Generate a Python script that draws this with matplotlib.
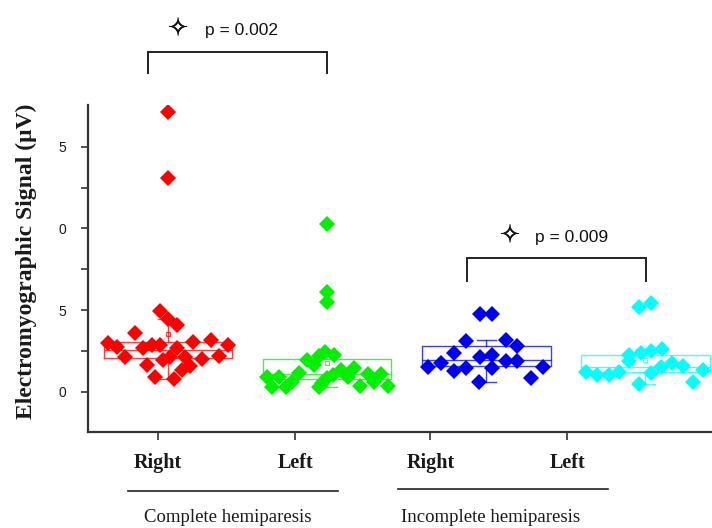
import numpy as np
import matplotlib
matplotlib.use("Agg")
import matplotlib.pyplot as plt
import matplotlib.patheffects as pe
from matplotlib.lines import Line2D

SERIF = "Liberation Serif"
SANS = "Liberation Sans"
INK = "#1a1a1a"

# categories
side_labels = ["Right", "Left", "Right", "Left"]
condition_labels = ["Complete hemiparesis", "Incomplete hemiparesis"]
colors = ["#ff0000", "#00f000", "#0000f0", "#00ffff"]

# EMG values (uV) per subject, with the horizontal scatter offset seen in the figure
right_complete = [17.14, 13.10, 4.97, 4.44, 4.10, 3.59, 3.02, 2.77, 2.12, 2.67,
                  2.87, 2.87, 2.67, 1.65, 0.90, 0.80, 1.96, 2.16, 2.12, 1.35,
                  1.59, 3.08, 3.18, 2.00, 2.20, 2.87]
right_complete_dx = [0.0, 0.0, -0.05, 0.0, 0.055, -0.21, -0.375, -0.32, -0.27, -0.155,
                     -0.10, -0.05, 0.055, -0.135, -0.08, 0.035, -0.03, 0.01, 0.105, 0.085,
                     0.14, 0.16, 0.27, 0.215, 0.32, 0.38]

left_complete = [10.27, 6.10, 5.52, 2.47, 2.26, 2.20, 1.96, 1.65, 1.14, 0.94,
                 0.90, 0.33, 0.33, 0.63, 0.33, 0.84, 1.04, 1.35, 0.90, 1.45,
                 0.37, 1.10, 0.63, 1.10, 0.37, 0.53]
left_complete_dx = [0.0, 0.0, 0.0, -0.01, 0.045, -0.05, -0.125, -0.08, -0.175, -0.375,
                    -0.30, -0.345, -0.26, -0.22, -0.05, 0.0, 0.035, 0.085, 0.13, 0.17,
                    0.21, 0.255, 0.295, 0.34, 0.38, -0.03]

right_incomplete = [4.77, 4.77, 3.14, 3.18, 2.81, 2.40, 2.12, 2.26, 1.92, 1.92,
                    1.55, 1.76, 1.30, 1.45, 1.45, 1.55, 0.84, 0.63]
right_incomplete_dx = [-0.04, 0.04, -0.125, 0.125, 0.195, -0.20, -0.04, 0.04, 0.125, 0.195,
                       -0.365, -0.285, -0.20, -0.125, 0.04, 0.36, 0.28, -0.045]

left_incomplete = [5.18, 5.42, 2.26, 1.92, 2.37, 2.53, 2.61, 1.24, 1.04, 1.04,
                   1.24, 1.14, 1.51, 1.79, 1.59, 1.35, 0.49, 0.63]
left_incomplete_dx = [-0.04, 0.035, -0.10, -0.10, -0.025, 0.035, 0.105, -0.375, -0.30, -0.23,
                      -0.165, 0.035, 0.10, 0.17, 0.24, 0.365, -0.04, 0.30]

# box statistics as drawn in the figure
box_q1 = [2.08, 0.80, 1.57, 1.24]
box_med = [2.57, 1.12, 1.96, 1.55]
box_q3 = [3.08, 2.03, 2.79, 2.28]
whisk_lo = [0.80, 0.33, 0.63, 0.49]
whisk_hi = [4.44, 2.47, 3.18, 2.61]

p_values = ["p = 0.002", "p = 0.009"]

series = [right_complete, left_complete, right_incomplete, left_incomplete]
offsets = [right_complete_dx, left_complete_dx, right_incomplete_dx, left_incomplete_dx]

fig = plt.figure(figsize=(7.12, 5.28), dpi=100)
ax = fig.add_axes([88 / 712, 96 / 528, 624 / 712, 327 / 528])

positions = [1, 2, 3, 4]
stats = []
for i, vals in enumerate(series):
    stats.append(dict(med=box_med[i], q1=box_q1[i], q3=box_q3[i],
                      whislo=whisk_lo[i], whishi=whisk_hi[i],
                      mean=float(np.mean(vals)), fliers=[]))

for i, pos in enumerate(positions):
    c = colors[i]
    ax.bxp([stats[i]], positions=[pos], widths=0.81, capwidths=0.12, showmeans=True,
           boxprops=dict(color=c, linewidth=1.0, alpha=0.75),
           medianprops=dict(color=c, linewidth=1.0, alpha=0.75),
           whiskerprops=dict(color=c, linewidth=1.0, alpha=0.75),
           capprops=dict(color=c, linewidth=1.0, alpha=0.75),
           meanprops=dict(marker="s", markersize=3.5, markerfacecolor="none",
                          markeredgecolor=c, markeredgewidth=0.8, alpha=0.75))
    xs = pos + np.asarray(offsets[i])
    ax.plot(xs, series[i], ls="none", marker="D", ms=8, color=c,
            markeredgewidth=0, zorder=3)

ax.set_xlim(0.497, 4.42)
ax.set_ylim(-2.45, 17.55)

for side in ("top", "right"):
    ax.spines[side].set_visible(False)
for side in ("left", "bottom"):
    ax.spines[side].set_color("#333333")
    ax.spines[side].set_linewidth(1.6)

ax.set_yticks([0, 5, 10, 15])
ax.set_yticklabels(["0", "5", "0", "5"], fontfamily=SANS, fontsize=10, color=INK)
ax.set_yticks([2.5, 7.5, 12.5], minor=True)
ax.tick_params(axis="y", which="both", direction="out", length=5, width=1.2,
               color="#333333", pad=11)

ax.set_xticks([0.937, 1.80, 2.65, 3.51])
ax.set_xticklabels(side_labels, fontfamily=SERIF, fontweight="bold", fontsize=14.5,
                   color=INK)
ax.tick_params(axis="x", direction="out", length=6, width=1.2, color="#333333", pad=9)

fig.text(26 / 712, 1 - 261 / 528, "Electromyographic Signal (\u03bcV)", rotation=90,
         ha="center", va="center", fontfamily=SERIF, fontweight="bold", fontsize=17,
         color=INK)

# significance brackets
brackets = [((0.874, 2.0), (19.5, 20.8)), ((2.88, 4.006), (6.79, 8.2))]
labels_at = [(1.063, 1.233, 22.1), (3.15, 3.31, 9.45)]
for (x0, x1), (ylo, yhi) in brackets:
    ax.plot([x0, x0, x1, x1], [ylo, yhi, yhi, ylo], color="#222222", lw=1.4,
            clip_on=False, solid_joinstyle="miter")
for (sx, tx, ty), ptxt in zip(labels_at, p_values):
    ax.text(sx, ty + 0.15, "\u2727", fontfamily="DejaVu Sans", fontweight="bold",
            fontsize=17, ha="center", va="center", color="#111111", clip_on=False,
            path_effects=[pe.withStroke(linewidth=0.4, foreground="#111111")])
    ax.text(tx, ty, ptxt, fontfamily=SANS, fontsize=12.5, ha="left", va="center",
            color="#111111", clip_on=False)

# condition groups below the axis
group_lines = [(128, 338, 491), (398, 608, 489)]
group_text_x = [228, 491]
for (x0, x1, y), tx, txt in zip(group_lines, group_text_x, condition_labels):
    fig.add_artist(Line2D([x0 / 712, x1 / 712], [1 - y / 528, 1 - y / 528],
                          color="#222222", lw=1.2))
    fig.text(tx / 712, 1 - 517 / 528, txt, ha="center", va="center",
             fontfamily=SERIF, fontsize=13.5, color=INK)

fig.savefig("out.png", dpi=100)
